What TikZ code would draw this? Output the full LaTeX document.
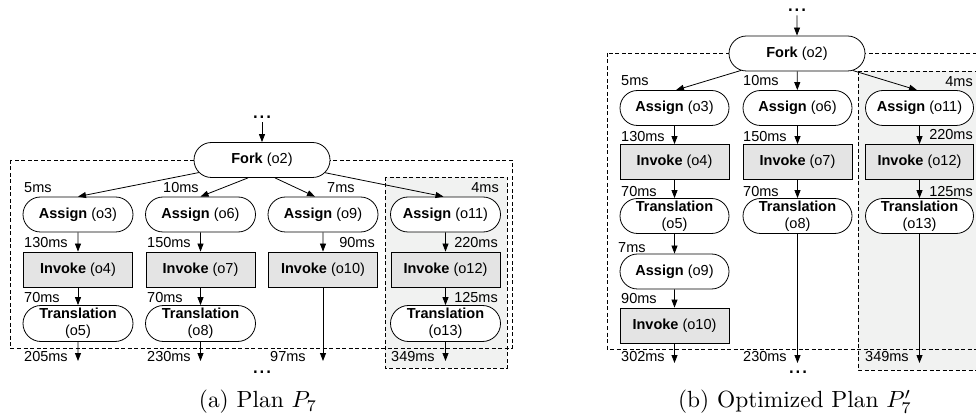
\documentclass[tikz,border=0pt]{standalone}
\usepackage{fontspec}
\newfontfamily\arial{Liberation Sans}
\usetikzlibrary{shapes.misc,arrows.meta,calc}
\definecolor{invgray}{HTML}{E4E4E4}
\definecolor{regiongray}{HTML}{F1F2F1}
\tikzset{
 base/.style={draw, line width=0.8pt, font=\arial\fontsize{14.5}{17}\selectfont, inner sep=0pt, align=center},
 rnode/.style={base, rounded rectangle, fill=white, minimum width=110pt, minimum height=35pt},
 fnode/.style={rnode, minimum width=136pt},
 inode/.style={base, rectangle, fill=invgray, minimum width=109pt, minimum height=35pt},
 lbl/.style={font=\arial\fontsize{14.5}{17}\selectfont, inner sep=0pt},
 dots/.style={font=\arial\fontsize{24}{24}\selectfont, inner sep=0pt},
 captext/.style={font=\fontsize{10}{12}\selectfont, inner sep=0pt, scale=2.34},
 arr/.style={line width=0.8pt, -{Triangle[length=8pt,width=6pt]}},
 region/.style={dash pattern=on 4pt off 2.5pt, line width=0.7pt},
}
\begin{document}
\begin{tikzpicture}[x=1pt,y=-1pt]
\useasboundingbox (0,0) rectangle (976,419);
\begin{scope}
\clip (0,0) rectangle (976,419);
\fill[regiongray] (385,177) rectangle (507,368);
\draw[region] (385,177) rectangle (507,368);
\draw[region] (10,160) rectangle (512,348);
\fill[regiongray] (858,71) rectangle (980,370);
\draw[region] (858,71) rectangle (980,370);
\draw[region] (607,53) rectangle (980,349);
\end{scope}

% ---------------- (a) ----------------
\node[dots] (atop) at (262,117) {...};
\node[fnode] (aF) at (262,160) {\textbf{Fork} (o2)};
\node[rnode] (a3) at (78,214.5) {\textbf{Assign} (o3)};
\node[inode] (a4) at (78,269.5) {\textbf{Invoke} (o4)};
\node[rnode, minimum height=36pt] (a5) at (78,323.5) {\textbf{Translation}\\(o5)};
\node[rnode] (a6) at (200.5,214.5) {\textbf{Assign} (o6)};
\node[inode] (a7) at (200.5,269.5) {\textbf{Invoke} (o7)};
\node[rnode, minimum height=36pt] (a8) at (200.5,323.5) {\textbf{Translation}\\(o8)};
\node[rnode] (a9) at (323,214.5) {\textbf{Assign} (o9)};
\node[inode] (a10) at (323,269.5) {\textbf{Invoke} (o10)};
\node[rnode] (a11) at (445.5,214.5) {\textbf{Assign} (o11)};
\node[inode] (a12) at (445.5,269.5) {\textbf{Invoke} (o12)};
\node[rnode, minimum height=36pt] (a13) at (445.5,323.5) {\textbf{Translation}\\(o13)};
\node[dots] (abot) at (262,372) {...};

\coordinate (ae1) at (78,361);
\coordinate (ae2) at (200.5,361);
\coordinate (ae3) at (323,361);
\coordinate (ae4) at (445.5,361);

\draw[arr, shorten <=4pt] (atop) -- (aF);
\draw[arr] (aF) -- (a3.north);
\draw[arr] ([xshift=-14pt]aF.south) -- (a6.north);
\draw[arr] ([xshift=13pt]aF.south) -- ([xshift=-8pt]a9.north);
\draw[arr] (aF) -- ([xshift=-2pt]a11.north);
\draw[arr] (a3) -- (a4);
\draw[arr] (a4) -- (a5);
\draw[arr] (a5) -- (ae1);
\draw[arr] (a6) -- (a7);
\draw[arr] (a7) -- (a8);
\draw[arr] (a8) -- (ae2);
\draw[arr] (a9) -- (a10);
\draw[arr] (a10) -- (ae3);
\draw[arr] (a11) -- (a12);
\draw[arr] (a12) -- (a13);
\draw[arr] (a13) -- (ae4);

\node[lbl, anchor=west] (la1) at (24,188) {5ms};
\node[lbl, anchor=west] (la2) at (163,188) {10ms};
\node[lbl, anchor=west] (la3) at (327,188) {7ms};
\node[lbl, anchor=east] (la4) at (499,188) {4ms};
\node[lbl, anchor=west] (la5) at (24,243) {130ms};
\node[lbl, anchor=west] (la6) at (147,243) {150ms};
\node[lbl, anchor=east] (la7) at (375,243) {90ms};
\node[lbl, anchor=east] (la8) at (498,243) {220ms};
\node[lbl, anchor=west] (la9) at (24,298) {70ms};
\node[lbl, anchor=west] (la10) at (147,298) {70ms};
\node[lbl, anchor=east] (la11) at (498,298) {125ms};
\node[lbl, anchor=west] (la12) at (24,357) {205ms};
\node[lbl, anchor=west] (la13) at (147,357) {230ms};
\node[lbl, anchor=west] (la14) at (270,357) {97ms};
\node[lbl, anchor=west] (la15) at (391,357) {349ms};
\node[captext] (capa) at (258,402) {(a)~Plan $P_7$};

% ---------------- (b) ----------------
\node[dots] (btop) at (797,10) {...};
\node[fnode] (bF) at (797,53.5) {\textbf{Fork} (o2)};
\node[rnode, minimum width=109pt] (b3) at (674.5,108) {\textbf{Assign} (o3)};
\node[inode] (b4) at (674.5,162) {\textbf{Invoke} (o4)};
\node[rnode, minimum width=109pt] (b5) at (674.5,216) {\textbf{Translation}\\(o5)};
\node[rnode, minimum width=109pt] (b9) at (674.5,271.5) {\textbf{Assign} (o9)};
\node[inode] (b10) at (674.5,325.5) {\textbf{Invoke} (o10)};
\node[rnode, minimum width=109pt] (b6) at (797.5,108) {\textbf{Assign} (o6)};
\node[inode] (b7) at (797.5,162) {\textbf{Invoke} (o7)};
\node[rnode, minimum width=109pt] (b8) at (797.5,216) {\textbf{Translation}\\(o8)};
\node[rnode, minimum width=108pt] (b11) at (919.5,108) {\textbf{Assign} (o11)};
\node[inode, minimum width=108pt] (b12) at (919.5,162) {\textbf{Invoke} (o12)};
\node[rnode, minimum width=108pt] (b13) at (919.5,216) {\textbf{Translation}\\(o13)};
\node[dots] (bbot) at (798,372) {...};

\coordinate (be1) at (674.5,363);
\coordinate (be2) at (797.5,363);
\coordinate (be3) at (919.5,363);

\draw[arr, shorten <=4pt] (btop) -- (bF);
\draw[arr] (bF) -- ([xshift=1.5pt]b3.north);
\draw[arr] (bF) -- (b6);
\draw[arr] (bF) -- ([xshift=-2.5pt]b11.north);
\draw[arr] (b3) -- (b4);
\draw[arr] (b4) -- (b5);
\draw[arr] (b5) -- (b9);
\draw[arr] (b9) -- (b10);
\draw[arr] (b10) -- (be1);
\draw[arr] (b6) -- (b7);
\draw[arr] (b7) -- (b8);
\draw[arr] (b8) -- (be2);
\draw[arr] (b11) -- (b12);
\draw[arr] (b12) -- (b13);
\draw[arr] (b13) -- (be3);

\node[lbl, anchor=west] (lb1) at (621,81) {5ms};
\node[lbl, anchor=west] (lb2) at (743,81) {10ms};
\node[lbl, anchor=east] (lb3) at (973,82) {4ms};
\node[lbl, anchor=west] (lb4) at (621,137) {130ms};
\node[lbl, anchor=west] (lb5) at (743,137) {150ms};
\node[lbl, anchor=east] (lb6) at (973,135) {220ms};
\node[lbl, anchor=west] (lb7) at (621,192) {70ms};
\node[lbl, anchor=west] (lb8) at (743,192) {70ms};
\node[lbl, anchor=east] (lb9) at (973,192) {125ms};
\node[lbl, anchor=west] (lb10) at (618,248) {7ms};
\node[lbl, anchor=west] (lb11) at (621,299) {90ms};
\node[lbl, anchor=west] (lb12) at (621,357) {302ms};
\node[lbl, anchor=west] (lb13) at (743,357) {230ms};
\node[lbl, anchor=west] (lb14) at (865,357) {349ms};
\node[captext] (capb) at (795,402) {(b)~Optimized Plan $P'_7$};
\end{tikzpicture}
\end{document}
